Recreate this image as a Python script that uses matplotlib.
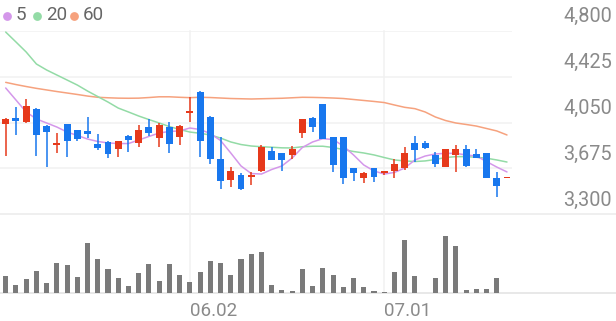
import matplotlib
matplotlib.use("Agg")
import matplotlib.pyplot as plt
from matplotlib.transforms import blended_transform_factory

# ---------------- data ----------------
opens = [4035, 4090, 4055, 4160, 4025, 3870, 4035, 3985, 3980, 3875,
         3890, 3830, 3940, 3885, 4010, 3925, 4010, 3930, 4130, 4300,
         4095, 3750, 3580, 3625, 3605, 3655, 3820, 3800, 3785, 3965,
         4090, 4200, 3930, 3930, 3675, 3595, 3675, 3635, 3650, 3675,
         3880, 3880, 3785, 3690, 3785, 3830, 3795, 3800, 3600, 3595]
highs = [4090, 4175, 4240, 4165, 4030, 3965, 4040, 3990, 4095, 3955,
         3895, 3900, 3950, 4030, 4080, 4045, 4055, 4030, 4255, 4305,
         4105, 3930, 3685, 3635, 3645, 3870, 3850, 3800, 3860, 4080,
         4095, 4200, 3930, 3930, 3680, 3645, 3680, 3655, 3750, 3850,
         3940, 3895, 3810, 3830, 3865, 3865, 3830, 3800, 3645, 3595]
lows = [3780, 3950, 4050, 3780, 3690, 3800, 3770, 3895, 3925, 3825,
        3760, 3770, 3810, 3850, 3940, 3850, 3800, 3865, 4055, 3770,
        3710, 3505, 3525, 3495, 3540, 3645, 3740, 3650, 3750, 3920,
        3975, 3915, 3645, 3545, 3575, 3555, 3565, 3625, 3600, 3660,
        3725, 3835, 3690, 3690, 3645, 3690, 3760, 3600, 3440, 3595]
closes = [4080, 4060, 4185, 3950, 3975, 3885, 3900, 3915, 3955, 3845,
          3795, 3895, 3905, 3990, 3965, 4030, 3875, 4025, 4140, 3900,
          3750, 3570, 3655, 3505, 3625, 3850, 3745, 3745, 3830, 4075,
          4015, 3915, 3705, 3595, 3640, 3640, 3605, 3650, 3710, 3800,
          3825, 3840, 3710, 3830, 3830, 3695, 3760, 3600, 3530, 3595]
volumes = [17300, 8300, 14700, 22300, 10000, 30700, 28700, 16000, 50300, 34300,
           24300, 15000, 7000, 20000, 29000, 12000, 29300, 18300, 11000, 21300,
           32300, 30000, 18300, 34000, 39300, 41000, 8300, 3300, 2700, 24300,
           7700, 25300, 18300, 6300, 15300, 6700, 2300, 1700, 21700, 53000,
           17300, 700, 15300, 57700, 47000, 3000, 4300, 4300, 15700, 0]
ma5 = [4332, 4234, 4136, 4079, 4046, 4013, 3972, 3944, 3915, 3895,
       3883, 3878, 3878, 3907, 3936, 3964, 3977, 3981, 4005, 3993,
       3960, 3903, 3801, 3695, 3633, 3629, 3666, 3695, 3760, 3846,
       3891, 3918, 3911, 3858, 3785, 3703, 3654, 3629, 3642, 3678,
       3744, 3776, 3793, 3798, 3798, 3785, 3776, 3731, 3686, 3646]
ma20 = [4789, 4708, 4626, 4528, 4479, 4438, 4397, 4356, 4307, 4262,
        4217, 4168, 4136, 4103, 4074, 4046, 4017, 3993, 3972, 3962,
        3948, 3923, 3891, 3870, 3858, 3852, 3848, 3843, 3842, 3852,
        3856, 3856, 3846, 3829, 3813, 3801, 3785, 3764, 3744, 3736,
        3731, 3736, 3748, 3764, 3771, 3771, 3766, 3758, 3744, 3727]
ma60 = [4378, 4360, 4344, 4329, 4316, 4303, 4291, 4279, 4266, 4256,
        4252, 4249, 4248, 4249, 4254, 4260, 4260, 4256, 4253, 4256,
        4254, 4250, 4246, 4244, 4242, 4244, 4246, 4248, 4252, 4256,
        4255, 4253, 4250, 4246, 4238, 4230, 4222, 4213, 4193, 4174,
        4163, 4136, 4095, 4066, 4046, 4034, 4021, 4001, 3981, 3948]
date_ticks = [18, 37]
date_labels = ["06.02", "07.01"]
price_ticks = [3300, 3675, 4050, 4425, 4800]
legend_labels = ["5", "20", "60"]

# ---------------- style ----------------
RED = "#e6391b"
BLUE = "#1877ee"
C5, C20, C60 = "#d497ea", "#93dba6", "#f6a27e"
GRID = "#f1f1f1"
TXT = "#8a8a8a"
FONT = ["Roboto", "DejaVu Sans"]
plt.rcParams["font.family"] = FONT

W, H = 616, 321
fig = plt.figure(figsize=(W / 100, H / 100), dpi=100)
fig.patch.set_facecolor("white")


def frac(x0, y0, x1, y1):
    return [x0 / W, 1 - y1 / H, (x1 - x0) / W, (y1 - y0) / H]


bg = fig.add_axes([0, 0, 1, 1], zorder=0)
bg.set_xlim(0, W)
bg.set_ylim(H, 0)
bg.axis("off")

XL = (-0.557, 49.49)
ax = fig.add_axes(frac(0, 30.7, 512, 214.3), zorder=2)
ax.set_xlim(*XL)
ax.set_ylim(price_ticks[0], price_ticks[-1])
ax.axis("off")
ax.patch.set_alpha(0)

axv = fig.add_axes(frac(0, 230, 512, 293.3), zorder=2)
axv.set_xlim(*XL)
axv.set_ylim(0, 63300)
axv.axis("off")
axv.patch.set_alpha(0)

n = len(closes)
idx = list(range(n))

# grid
for p in price_ticks[1:]:
    ax.axhline(p, color=GRID, lw=1.1, zorder=0)
ax.axhline(price_ticks[0], xmin=0, xmax=W / 512, color="#ececec", lw=1.2,
           clip_on=False, zorder=0)
axv.axhline(0, xmin=0, xmax=W / 512, color="#e6e6e6", lw=1.3, clip_on=False, zorder=0)
trans = blended_transform_factory(ax.transData, bg.transData)
for t in date_ticks:
    ax.plot([t, t], [30.7, 293.3], transform=trans, color=GRID, lw=1.1,
            clip_on=False, zorder=0)

# y labels
for p in price_ticks:
    ax.annotate(f"{p:,}", xy=(1, p), xycoords=("axes fraction", "data"),
                xytext=(100, 14), textcoords="offset pixels", ha="right",
                va="center", fontsize=14.3, color=TXT)

# moving averages
ax.plot(idx, ma60, color=C60, lw=1.1, zorder=1, solid_capstyle="round")
ax.plot(idx, ma20, color=C20, lw=1.1, zorder=1, solid_capstyle="round")
ax.plot(idx, ma5, color=C5, lw=1.1, zorder=1, solid_capstyle="round")

# candles
cols = [RED if c >= o else BLUE for o, c in zip(opens, closes)]
ax.vlines(idx, lows, highs, colors=cols, lw=1.1, zorder=3)
bottoms = [min(o, c) for o, c in zip(opens, closes)]
heights = [max(abs(c - o), 10) for o, c in zip(opens, closes)]
ax.bar(idx, heights, bottom=bottoms, width=0.68, color=cols, zorder=4, linewidth=0)

# volume
axv.bar(idx, volumes, width=0.5, color="#7a7a7a", linewidth=0, zorder=2)

# date labels
for t, lab in zip(date_ticks, date_labels):
    axv.annotate(lab, xy=(t, 0), xycoords="data", xytext=(0, -17.5),
                 textcoords="offset pixels", ha="left", va="center",
                 fontsize=13.5, color=TXT)

# legend
leg_dot_x = [7, 37.3, 74]
leg_txt_x = [15.5, 46.5, 83]
for dx, tx, c, lab in zip(leg_dot_x, leg_txt_x, [C5, C20, C60], legend_labels):
    bg.scatter([dx], [15.5], s=40, color=c, linewidths=0, zorder=3)
    bg.text(tx, 15.5, lab, ha="left", va="center", fontsize=13.5, color="#666666")

fig.savefig("out.png", dpi=100, facecolor="white")
